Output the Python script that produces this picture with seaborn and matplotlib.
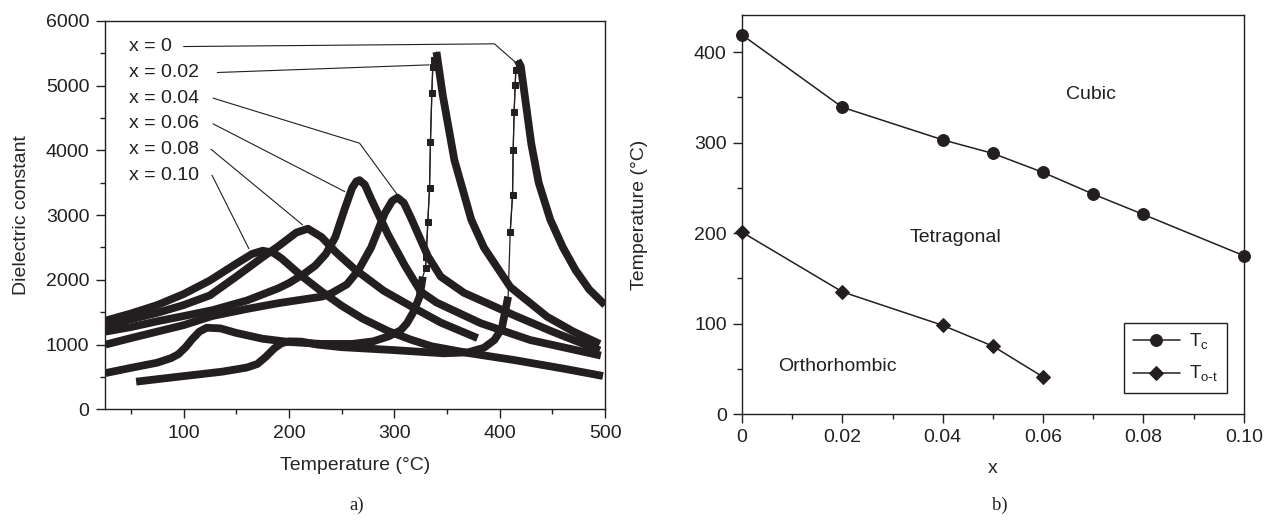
import numpy as np
import pandas as pd
import matplotlib
matplotlib.use("Agg")
import matplotlib.pyplot as plt
from matplotlib.ticker import MultipleLocator
import seaborn as sns

# ---------- a) dielectric constant vs temperature (values read off the curves) ----------
# x = 0 : low part, fast rise (squares), decay
t_x000 = [55, 96, 137, 160, 170, 178, 186, 193, 200, 212, 227, 250, 297, 347, 370, 385, 395, 402, 408]
e_x000 = [427, 505, 582, 645, 700, 810, 940, 1020, 1050, 1045, 1000, 960, 917, 865, 880, 950, 1071, 1250, 1740]
t_x000_jump = [408, 410, 412.2, 412.8, 413.7, 414.7, 415.3, 417]
e_x000_jump = [1740, 2745, 3313, 4008, 4600, 5013, 5244, 5390]
t_x000_fall = [417, 420, 425, 430, 437, 448, 460, 472, 485, 500]
e_x000_fall = [5390, 5300, 4700, 4100, 3500, 2930, 2500, 2150, 1850, 1610]

# x = 0.02
t_x002 = [26, 50, 75, 88, 95, 102, 108, 115, 122, 135, 150, 175, 200, 231, 260, 280, 295, 306, 312, 318, 324, 327]
e_x002 = [560, 640, 720, 790, 850, 960, 1080, 1200, 1260, 1250, 1180, 1090, 1040, 1010, 1010, 1050, 1130, 1220, 1330, 1500, 1740, 2050]
t_x002_jump = [327, 329.6, 330.2, 331.8, 333.4, 334.3, 335.6, 336.5, 338, 340]
e_x002_jump = [2050, 2180, 2350, 2900, 3420, 4136, 4884, 5295, 5400, 5520]
t_x002_fall = [340, 346, 357, 373, 385, 410, 445, 470, 495]
e_x002_fall = [5520, 4850, 3850, 2930, 2500, 1890, 1430, 1200, 1010]

# x = 0.04
t_x004 = [26, 50, 75, 100, 127, 160, 190, 231, 240, 255, 266, 278, 291, 298, 303, 309, 316, 332, 344, 366, 414, 450, 495]
e_x004 = [1000, 1100, 1200, 1300, 1440, 1550, 1640, 1740, 1790, 1930, 2150, 2500, 3030, 3220, 3270, 3190, 2950, 2360, 2050, 1800, 1450, 1200, 910]

# x = 0.06
t_x006 = [26, 50, 75, 100, 127, 160, 190, 200, 215, 225, 235, 244, 253, 260, 264, 267, 272, 278, 294, 310, 325, 340, 382, 429, 496]
e_x006 = [1200, 1270, 1360, 1440, 1530, 1680, 1870, 1950, 2100, 2220, 2400, 2660, 3100, 3420, 3520, 3540, 3470, 3250, 2700, 2220, 1820, 1650, 1330, 1070, 830]

# x = 0.08
t_x008 = [26, 50, 75, 100, 125, 150, 175, 190, 207, 218, 231, 245, 262, 290, 316, 344, 379]
e_x008 = [1300, 1390, 1490, 1610, 1760, 2050, 2350, 2520, 2730, 2790, 2660, 2420, 2170, 1830, 1590, 1340, 1100]

# x = 0.10
t_x010 = [26, 50, 75, 100, 125, 150, 165, 175, 185, 193, 212, 231, 250, 270, 294, 315, 335, 370, 414, 460, 498]
e_x010 = [1370, 1480, 1610, 1780, 1990, 2250, 2400, 2450, 2420, 2330, 2060, 1820, 1600, 1400, 1210, 1080, 975, 870, 760, 630, 515]

curve_labels = ["x = 0", "x = 0.02", "x = 0.04", "x = 0.06", "x = 0.08", "x = 0.10"]
label_eps = [5604, 5203, 4807, 4410, 4018, 3616]
# leader lines: list of (T, eps) vertices after the label
leader_pts = [
    [(100, 5604), (395, 5646), (415, 5360)],
    [(132, 5203), (333, 5321)],
    [(128, 4807), (267, 4111), (303, 3312)],
    [(128, 4410), (253, 3363)],
    [(126, 4018), (213, 2849)],
    [(127, 3616), (162, 2480)],
]

# ---------- b) phase diagram ----------
x_tc = [0, 0.02, 0.04, 0.05, 0.06, 0.07, 0.08, 0.10]
tc = [419, 339, 303, 288, 267, 243, 220.5, 175]
x_tot = [0, 0.02, 0.04, 0.05, 0.06]
tot = [201, 135, 98, 75, 41]

ink = "#231f20"
sns.set_style("ticks")
plt.rcParams["font.family"] = ["Liberation Sans", "DejaVu Sans"]
plt.rcParams["axes.edgecolor"] = ink
plt.rcParams["text.color"] = ink

fig = plt.figure(figsize=(12.64, 5.23), dpi=100)
ax1 = fig.add_axes([0.0827, 0.2174, 0.396, 0.7426])
ax2 = fig.add_axes([0.587, 0.2084, 0.397, 0.763])

thick = dict(color=ink, lw=5.6, sort=False, estimator=None,
             solid_capstyle="butt", solid_joinstyle="round")
thin = dict(color=ink, lw=0.9, sort=False, estimator=None,
            marker="s", ms=4.2, mec=ink, mfc=ink)

for t, e in [(t_x000, e_x000), (t_x000_fall, e_x000_fall),
             (t_x002, e_x002), (t_x002_fall, e_x002_fall),
             (t_x004, e_x004), (t_x006, e_x006),
             (t_x008, e_x008), (t_x010, e_x010)]:
    sns.lineplot(x=t, y=e, ax=ax1, **thick)
for t, e in [(t_x000_jump, e_x000_jump), (t_x002_jump, e_x002_jump)]:
    sns.lineplot(x=t[1:-1], y=e[1:-1], ax=ax1, **thin)
    ax1.plot(t, e, color=ink, lw=0.9)

for lab, ey, pts in zip(curve_labels, label_eps, leader_pts):
    ax1.text(48, ey, lab, fontsize=14, ha="left", va="center")
    xs = [p[0] for p in pts]
    ys = [p[1] for p in pts]
    ax1.plot(xs, ys, color=ink, lw=0.8)

ax1.set_xlim(25, 500)
ax1.set_ylim(0, 6000)
ax1.xaxis.set_major_locator(MultipleLocator(100))
ax1.xaxis.set_minor_locator(MultipleLocator(50))
ax1.yaxis.set_major_locator(MultipleLocator(1000))
ax1.yaxis.set_minor_locator(MultipleLocator(500))
ax1.set_xlabel("Temperature (°C)", fontsize=14)
ax1.set_ylabel("Dielectric constant", fontsize=14)
ax1.xaxis.set_label_coords(0.5, -0.122)
ax1.yaxis.set_label_coords(-0.149, 0.5)

sns.lineplot(x=x_tc, y=tc, ax=ax2, color=ink, lw=1.1, marker="o", ms=8.5,
             mec=ink, mfc=ink, label="T$_\\mathregular{c}$")
sns.lineplot(x=x_tot, y=tot, ax=ax2, color=ink, lw=1.1, marker="D", ms=7.5,
             mec=ink, mfc=ink, label="T$_\\mathregular{o\\text{-}t}$")
for c in ax2.lines:
    c.set_clip_on(False)

ax2.text(0.0695, 353, "Cubic", fontsize=14, ha="center", va="center")
ax2.text(0.0425, 195, "Tetragonal", fontsize=14, ha="center", va="center")
ax2.text(0.0191, 53, "Orthorhombic", fontsize=14, ha="center", va="center")

ax2.set_xlim(0, 0.10)
ax2.set_ylim(0, 441)
ax2.xaxis.set_major_locator(MultipleLocator(0.02))
ax2.xaxis.set_minor_locator(MultipleLocator(0.01))
ax2.yaxis.set_major_locator(MultipleLocator(100))
ax2.yaxis.set_minor_locator(MultipleLocator(50))
ax2.set_xticks([0, 0.02, 0.04, 0.06, 0.08, 0.10])
ax2.set_xticklabels(["0", "0.02", "0.04", "0.06", "0.08", "0.10"])
ax2.set_xlabel("x", fontsize=14)
ax2.set_ylabel("Temperature (°C)", fontsize=14)
ax2.xaxis.set_label_coords(0.5, -0.115)
ax2.yaxis.set_label_coords(-0.187, 0.5)

leg = ax2.legend(loc="lower right", bbox_to_anchor=(0.966, 0.053), frameon=True,
                 fancybox=False, edgecolor=ink, framealpha=1, fontsize=13.5,
                 handlelength=2.5, borderpad=0.45, labelspacing=0.65, handletextpad=0.5,
                 borderaxespad=0)
leg.get_frame().set_linewidth(1.0)

for ax in (ax1, ax2):
    ax.tick_params(which="major", direction="out", length=6.5, width=1, labelsize=14,
                   colors=ink, pad=4.5)
    ax.tick_params(which="minor", direction="out", length=3.6, width=1, colors=ink)
    for s in ax.spines.values():
        s.set_linewidth(1.0)
        s.set_color(ink)

fig.text(357 / 1264, 1 - 505 / 523, "a)", fontsize=13.5, family="Liberation Serif",
         ha="center", va="center")
fig.text(1000 / 1264, 1 - 505 / 523, "b)", fontsize=13.5, family="Liberation Serif",
         ha="center", va="center")

fig.savefig("out.png", dpi=100, facecolor="white")
